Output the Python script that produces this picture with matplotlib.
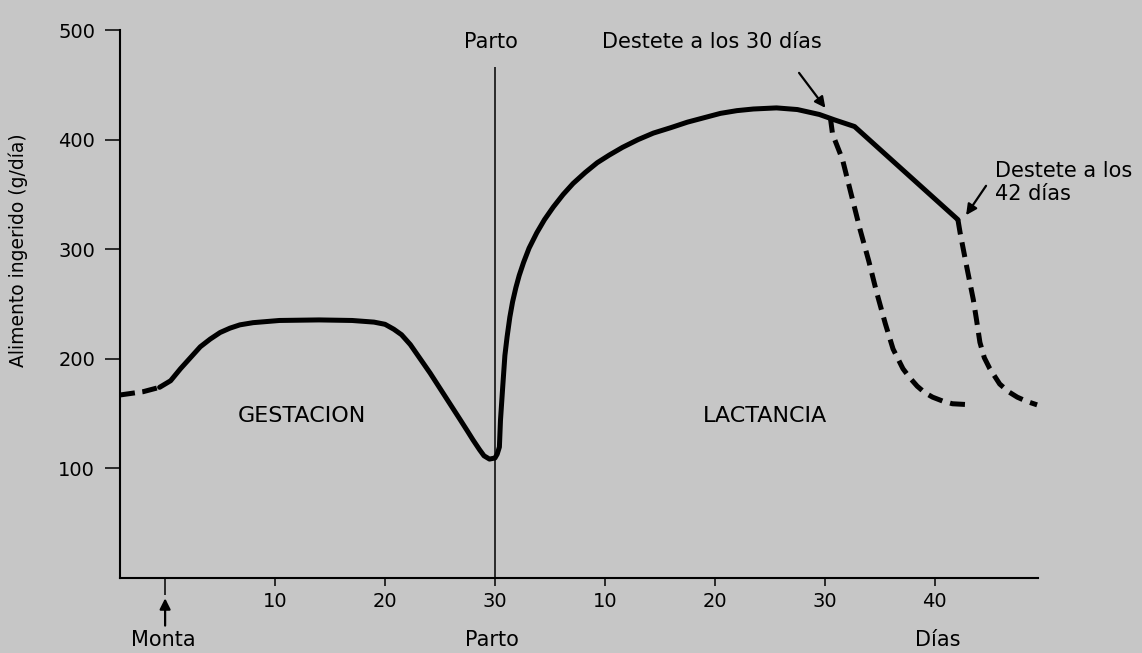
import matplotlib
matplotlib.use('Agg')
import matplotlib.pyplot as plt

# dias continuos: 0 = monta, 30 = parto, 30 + d = dia d de lactancia
preDays = [-4.1, -2.0, -0.5]
preIntake = [167, 170, 174]

mainDays = [-0.5, 0.5, 1.4, 2.3, 3.2, 4.1, 5.0, 5.9, 6.8, 8.0, 10.4, 14.0,
            17.0, 19.0, 20.0, 20.8, 21.5, 22.3, 23.2, 24.1, 25.0, 25.9, 26.8,
            27.5, 28.0, 28.6, 29.0, 29.5, 30.0, 30.2, 30.4, 30.5, 30.7, 30.9,
            31.1, 31.35, 31.6, 31.9, 32.2, 32.6, 33.1, 33.8, 34.5, 35.3, 36.2,
            37.1, 38.2, 39.3, 40.4, 41.6, 43.0, 44.4, 46.0, 47.5, 49.0, 50.5,
            52.0, 53.5, 55.6, 57.5, 59.5, 60.9, 62.7, 72.1]
mainIntake = [174, 180, 191, 201, 211, 218, 224, 228, 231, 233, 235, 235.5,
              235, 233.5, 231.5, 227, 222, 213, 200, 187, 173, 159, 145,
              134, 126, 117, 111.5, 108.5, 109.5, 113, 119.5, 144, 174, 203,
              220, 238, 252, 265, 276, 288, 301, 315, 327, 338.5, 350,
              360, 370, 379, 386, 393, 400, 406, 411, 416, 420, 424,
              426.5, 428, 429, 427.5, 423, 418, 412, 327]

wean30Days = [60.5, 60.7, 61.6, 62.4, 63.2, 64.0, 64.7, 65.5, 66.2, 67.1,
              67.7, 68.4, 69.1, 69.8, 70.7, 71.6, 73.4]
wean30Intake = [420, 405, 382, 350, 318, 289, 261, 232, 209, 191,
                183, 175, 169, 165, 161.5, 159, 158]

wean42Days = [72.1, 72.3, 72.9, 73.5, 73.8, 74.1, 74.5, 75.0, 75.9, 76.7,
              77.5, 78.4, 79.3]
wean42Intake = [327, 315, 284, 254, 235, 215, 201, 191, 177, 170,
                165, 161, 158]

xTicks = [10, 20, 30, 40, 50, 60, 70]
xTickLabels = ['10', '20', '30', '10', '20', '30', '40']
yTicks = [100, 200, 300, 400, 500]

bg = '#c6c6c6'
plt.rcParams['font.family'] = ['DejaVu Sans']

fig = plt.figure(figsize=(11.42, 6.53), dpi=100, facecolor=bg)
ax = fig.add_axes([0.1051, 0.1149, 0.804, 0.839])
ax.set_facecolor(bg)

lw = 3.6
ax.plot(preDays, preIntake, color='black', lw=lw, linestyle=(0, (3, 1.5)))
ax.plot(mainDays, mainIntake, color='black', lw=lw,
        solid_joinstyle='round', solid_capstyle='round')
ax.plot(wean30Days, wean30Intake, color='black', lw=lw, linestyle=(0, (3, 1.6)))
ax.plot(wean42Days, wean42Intake, color='black', lw=lw, linestyle=(0, (3, 1.6)))

ax.vlines(30, 0, 466, color='black', lw=1.1)

ax.set_xlim(-4.1, 79.4)
ax.set_ylim(0, 500)
for side in ['top', 'right']:
    ax.spines[side].set_visible(False)
for side in ['left', 'bottom']:
    ax.spines[side].set_linewidth(1.5)

ax.set_xticks(xTicks)
ax.set_xticklabels(xTickLabels)
ax.set_xticks([0], minor=True)
ax.set_yticks(yTicks)
ax.tick_params(axis='x', which='major', direction='out', length=6, width=1.1, pad=4, labelsize=14)
ax.tick_params(axis='x', which='minor', direction='out', length=12, width=1.1)
ax.tick_params(axis='y', direction='out', length=11, width=1.1, pad=7, labelsize=14)

fig.text(18 / 1142, 1 - 250 / 653, 'Alimento ingerido (g/día)', rotation=90,
         ha='center', va='center', fontsize=13.5)

txt = dict(fontsize=15, color='black')
ax.text(29.6, 489, 'Parto', ha='center', va='center', **txt)
ax.text(39.7, 489, 'Destete a los 30 días', ha='left', va='center', **txt)
ax.text(75.5, 361, 'Destete a los\n42 días', ha='left', va='center', linespacing=1.15, **txt)
ax.text(12.4, 148, 'GESTACION', ha='center', va='center', fontsize=16)
ax.text(54.6, 148, 'LACTANCIA', ha='center', va='center', fontsize=16)

ax.text(-0.2, -57, 'Monta', ha='center', va='center', clip_on=False, **txt)
ax.text(29.7, -57, 'Parto', ha='center', va='center', clip_on=False, **txt)
ax.text(70.3, -57, 'Días', ha='center', va='center', clip_on=False, **txt)

arrow = dict(arrowstyle='-|>', color='black', lw=1.6, mutation_scale=16)
ax.annotate('', xy=(60.2, 427), xytext=(57.5, 463), arrowprops=arrow)
ax.annotate('', xy=(72.7, 329), xytext=(74.8, 360), arrowprops=arrow)
ax.annotate('', xy=(0, -16), xytext=(0, -46), arrowprops=arrow, annotation_clip=False)

fig.savefig('out.png', dpi=100, facecolor=bg)
